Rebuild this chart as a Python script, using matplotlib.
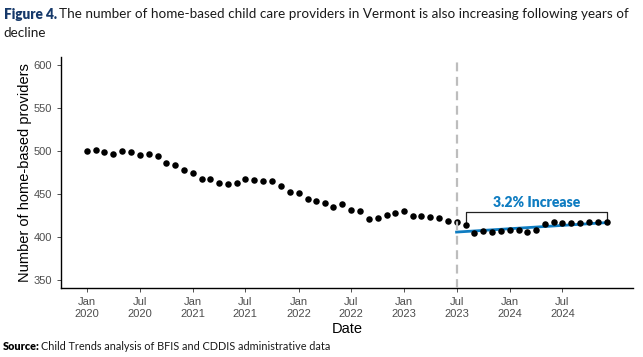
import numpy as np
import pandas as pd
import matplotlib
matplotlib.use("Agg")
import matplotlib.pyplot as plt
import matplotlib.dates as mdates

# monthly counts of home-based providers, Jan 2020 - Dec 2024
dates = pd.date_range("2020-01-01", periods=60, freq="MS")
providers = [
    500, 501, 499, 497, 500, 499, 495, 497, 494, 486,
    484, 478, 474, 468, 468, 463, 462, 463, 468, 466,
    465, 465, 460, 452, 451, 444, 442, 440, 435, 439,
    432, 431, 421, 422, 426, 428, 430, 425, 425, 424,
    422, 419, 418, 414, 405, 407, 406, 407, 408, 408,
    406, 408, 415, 418, 416, 417, 417, 418, 418, 418,
]

policy_date = pd.Timestamp("2023-07-01")
trend_dates = [pd.Timestamp("2023-07-01"), pd.Timestamp("2024-12-01")]
trend_values = [406, 417]
bracket_dates = [pd.Timestamp("2023-08-01"), pd.Timestamp("2024-12-01")]
bracket_top = 429
bracket_legs = [416, 420]
annotation = "3.2% Increase"

tick_dates = pd.date_range("2020-01-01", "2024-07-01", freq="6MS")
tick_labels = [d.strftime("%b\n%Y") for d in tick_dates]

BLUE = "#0E7CC1"
NAVY = "#16396A"

plt.rcParams["font.family"] = ["Liberation Sans", "DejaVu Sans"]

fig = plt.figure(figsize=(6.43, 3.57), dpi=100)
ax = fig.add_axes([0.095, 0.193, 0.889, 0.647])

ax.axvline(policy_date, color="#BDBDBD", lw=1.6, ls=(0, (4, 2.5)), zorder=4)
ax.scatter(dates, providers, s=22, color="black", zorder=3, linewidths=0)
ax.plot(trend_dates, trend_values, color=BLUE, lw=2.0, zorder=2)

# bracket over the post-July-2023 period
ax.plot([bracket_dates[0], bracket_dates[0], bracket_dates[1], bracket_dates[1]],
        [bracket_legs[0], bracket_top, bracket_top, bracket_legs[1]],
        color="#222222", lw=0.9, zorder=2)
mid = bracket_dates[0] + (bracket_dates[1] - bracket_dates[0]) / 2
ax.text(mid, bracket_top + 4, annotation, color=BLUE, fontsize=10,
        fontweight="heavy", family=["Lato", "DejaVu Sans"],
        ha="center", va="bottom")

x0, x1 = mdates.date2num(dates[0]), mdates.date2num(dates[-1])
pad = 0.05 * (x1 - x0)
ax.set_xlim(x0 - pad, x1 + pad)
ax.set_ylim(341, 609)
ax.set_yticks([350, 400, 450, 500, 550, 600])
ax.set_xticks(tick_dates)
ax.set_xticklabels(tick_labels)

for side in ["top", "right"]:
    ax.spines[side].set_visible(False)
for side in ["left", "bottom"]:
    ax.spines[side].set_linewidth(1.0)
    ax.spines[side].set_color("black")
ax.tick_params(axis="both", labelsize=8, labelcolor="#4D4D4D",
               color="#333333", length=3, width=0.6)
ax.set_xlabel("Date", fontsize=10.5, labelpad=2)
ax.set_ylabel("Number of home-based providers", fontsize=10.5, labelpad=1)

# title with bold "Figure 4." prefix
renderer = fig.canvas.get_renderer()
lato = ["Lato", "DejaVu Sans"]
t1 = fig.text(0.006, 0.96, "Figure 4.", fontsize=9.8, fontweight="heavy",
              color=NAVY, family=lato, va="center")
bb = t1.get_window_extent(renderer)
fig.text(bb.x1 / fig.bbox.width + 0.003, 0.96,
         "The number of home-based child care providers in Vermont is also increasing following years of",
         fontsize=9.7, color="#1A1A1A", family=lato, va="center")
fig.text(0.006, 0.908, "decline", fontsize=9.7, color="#1A1A1A",
         family=lato, va="center")

s1 = fig.text(0.004, 0.03, "Source:", fontsize=7.8, fontweight="heavy",
              color="black", family=lato, va="center")
bb = s1.get_window_extent(renderer)
fig.text(bb.x1 / fig.bbox.width + 0.003, 0.03,
         "Child Trends analysis of BFIS and CDDIS administrative data",
         fontsize=7.8, color="#1A1A1A", family=lato, va="center")
fig.text(0.004, -0.012, "Note:", fontsize=7.8, fontweight="heavy",
         color="black", family=lato, va="center")

fig.savefig("out.png", dpi=100)
